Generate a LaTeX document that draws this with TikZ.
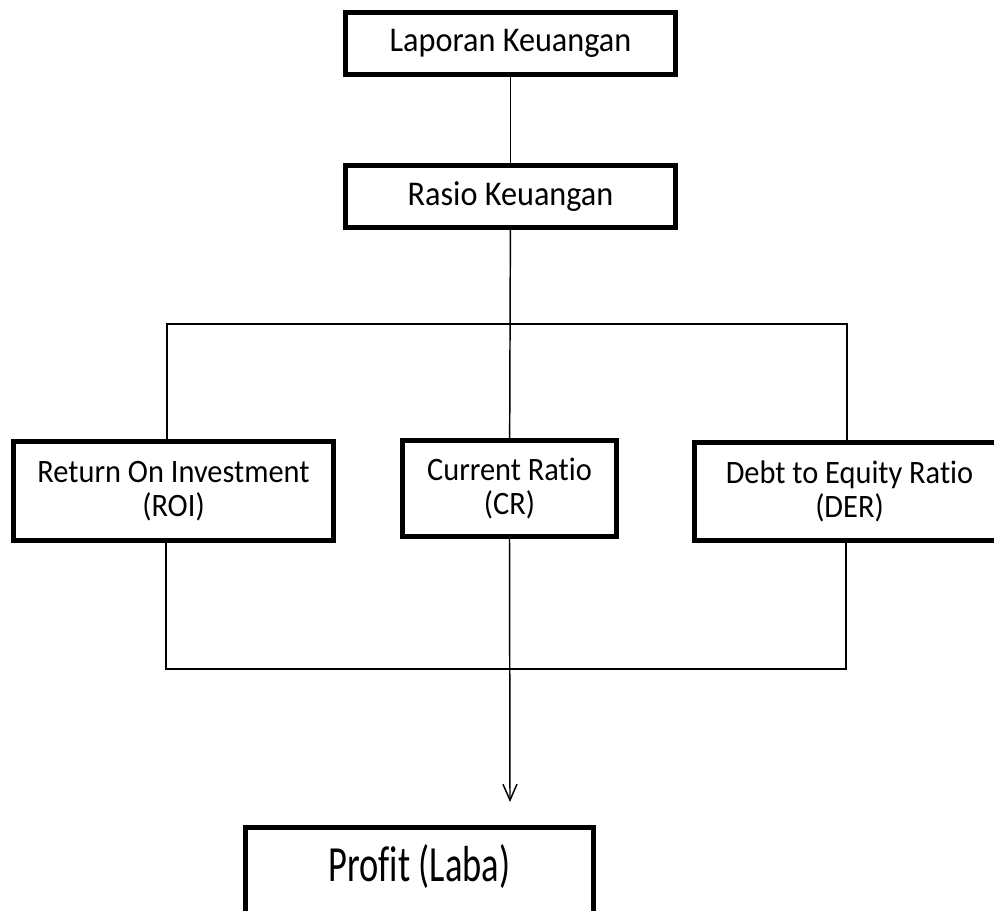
\documentclass[tikz,border=0pt]{standalone}
\usepackage{fontspec}
\setmainfont[Ligatures=NoCommon, FakeStretch=0.93]{Carlito}
\newfontfamily\narrowfont[Ligatures=NoCommon, FakeStretch=0.72]{Carlito}
\usepackage{tikz}
\usetikzlibrary{arrows.meta,positioning}

\begin{document}
\begin{tikzpicture}[x=0.75pt, y=-0.75pt,
  bx/.style={rectangle, draw=black, line width=3.75pt, inner sep=0pt,
             align=center, font=\fontsize{24.5}{25.5}\selectfont},
  hd/.style={bx, minimum width=247.5pt, minimum height=46.5pt,
             font=\fontsize{26}{28}\selectfont},
  ln/.style={line width=1.1pt, black},
  arr/.style={ln, -{Straight Barb[length=12pt, width=10.5pt, line width=1.1pt]}}]

\useasboundingbox (0,0) rectangle (994,910);
\clip (0,0) rectangle (994,910);

% top of the chart
\node[hd] (lap) at (510.5,43.5) {Laporan Keuangan};
\node[hd] (ras) at (510.5,196.5) {Rasio Keuangan};

% the three ratios
\node[bx, minimum width=240pt, minimum height=74.25pt] (roi) at (173.5,491)
  {Return On Investment\\(ROI)};
\node[bx, minimum width=160.5pt, minimum height=72pt] (cr) at (509.5,488.5)
  {Current Ratio\\(CR)};
\node[bx, minimum width=232.5pt, minimum height=73.5pt] (der) at (849.5,491.5)
  {Debt to Equity Ratio\\(DER)};

% result
\node[bx, anchor=north, minimum width=261pt, text height=40.5pt, text depth=45pt,
      font=\narrowfont\fontsize{38}{40}\selectfont] (prof) at (419.5,824.5)
  {Profit (Laba)};

\coordinate (tl) at (167,324);
\coordinate (tr) at (847,324);
\coordinate (bl) at (166,669);
\coordinate (br) at (846,669);
\coordinate (tip) at (510,802);

\draw[ln] (lap) -- (ras);
\draw[ln] (ras) -- (cr);
\draw[ln] (tl |- roi.north) -- (tl) -- (tr) -- (tr |- der.north);
\draw[ln] (bl |- roi.south) -- (bl) -- (br) -- (br |- der.south);
\draw[arr] (cr.south) -- (tip);
\end{tikzpicture}
\end{document}
